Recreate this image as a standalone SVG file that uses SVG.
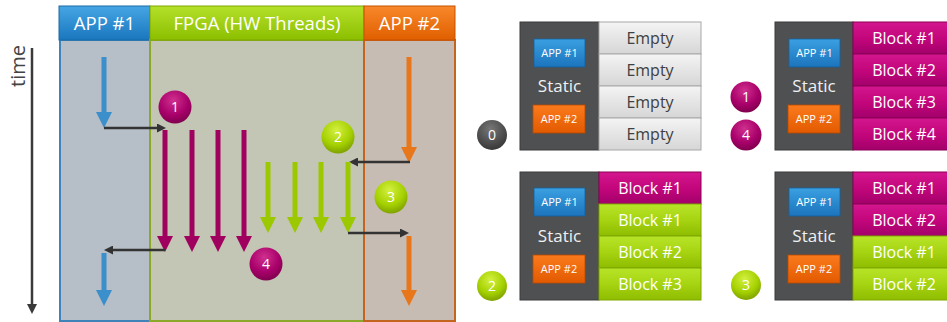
<svg xmlns="http://www.w3.org/2000/svg" width="947" height="322" viewBox="0 0 947 322">
<defs>
<linearGradient id="gBlueH" x1="0" y1="0" x2="0" y2="1"><stop offset="0" stop-color="#45a6e4"/><stop offset="1" stop-color="#1a76be"/></linearGradient>
<linearGradient id="gGreenH" x1="0" y1="0" x2="0" y2="1"><stop offset="0" stop-color="#b4e02a"/><stop offset="1" stop-color="#8cbf00"/></linearGradient>
<linearGradient id="gOrangeH" x1="0" y1="0" x2="0" y2="1"><stop offset="0" stop-color="#f8882a"/><stop offset="1" stop-color="#e05f00"/></linearGradient>
<linearGradient id="gMag" x1="0" y1="0" x2="0" y2="1"><stop offset="0" stop-color="#d4168f"/><stop offset="0.5" stop-color="#c4067c"/><stop offset="1" stop-color="#a2006a"/></linearGradient>
<linearGradient id="gGrn" x1="0" y1="0" x2="0" y2="1"><stop offset="0" stop-color="#b8e428"/><stop offset="0.5" stop-color="#a6d412"/><stop offset="1" stop-color="#8ebc00"/></linearGradient>
<linearGradient id="gEmp" x1="0" y1="0" x2="0" y2="1"><stop offset="0" stop-color="#f4f4f4"/><stop offset="1" stop-color="#d6d6d6"/></linearGradient>
<linearGradient id="gApp1" x1="0" y1="0" x2="0" y2="1"><stop offset="0" stop-color="#3aa0e2"/><stop offset="1" stop-color="#1c74bc"/></linearGradient>
<linearGradient id="gApp2" x1="0" y1="0" x2="0" y2="1"><stop offset="0" stop-color="#fb7a1c"/><stop offset="1" stop-color="#e25a00"/></linearGradient>
<radialGradient id="cMag" cx="0.45" cy="0.3" r="0.75"><stop offset="0" stop-color="#d0308e"/><stop offset="0.6" stop-color="#a8006a"/><stop offset="1" stop-color="#780048"/></radialGradient>
<radialGradient id="cGrn" cx="0.45" cy="0.3" r="0.75"><stop offset="0" stop-color="#d4f040"/><stop offset="0.6" stop-color="#a4d000"/><stop offset="1" stop-color="#789800"/></radialGradient>
<radialGradient id="cGry" cx="0.45" cy="0.3" r="0.75"><stop offset="0" stop-color="#777"/><stop offset="0.6" stop-color="#4e4e4e"/><stop offset="1" stop-color="#333"/></radialGradient>
<marker id="hBlue" markerUnits="userSpaceOnUse" markerWidth="16" markerHeight="16" viewBox="0 0 16 16" refX="0" refY="8" orient="auto"><path d="M0,0 L16,8 L0,16 z" fill="#3b8fca"/></marker>
<marker id="hMag" markerUnits="userSpaceOnUse" markerWidth="16" markerHeight="16" viewBox="0 0 16 16" refX="0" refY="8" orient="auto"><path d="M0,0 L16,8 L0,16 z" fill="#a0005e"/></marker>
<marker id="hGrn" markerUnits="userSpaceOnUse" markerWidth="16" markerHeight="16" viewBox="0 0 16 16" refX="0" refY="8" orient="auto"><path d="M0,0 L16,8 L0,16 z" fill="#9cc800"/></marker>
<marker id="hOrg" markerUnits="userSpaceOnUse" markerWidth="16" markerHeight="16" viewBox="0 0 16 16" refX="0" refY="8" orient="auto"><path d="M0,0 L16,8 L0,16 z" fill="#e8761a"/></marker>
<marker id="hBlk" markerUnits="userSpaceOnUse" markerWidth="9" markerHeight="9" viewBox="0 0 9 9" refX="0" refY="4.5" orient="auto"><path d="M0,0 L9,4.5 L0,9 z" fill="#333"/></marker>
<marker id="hTime" markerUnits="userSpaceOnUse" markerWidth="10" markerHeight="10" viewBox="0 0 10 10" refX="0" refY="5" orient="auto"><path d="M0,0 L10,5 L0,10 z" fill="#3a3a3a"/></marker>
</defs>
<style>
text{font-family:"Open Sans","Noto Sans","Liberation Sans",sans-serif;}
.hdr{fill:#fff;font-size:18.5px;text-anchor:middle;}
.num{fill:#fff;font-size:14px;text-anchor:middle;}
.blk{fill:#fff;font-size:16px;text-anchor:middle;}
.emp{fill:#404040;font-size:16px;text-anchor:middle;}
.stat{fill:#f0f0f0;font-size:17px;text-anchor:middle;}
.sapp{fill:#fff;font-size:11px;text-anchor:middle;}
.thick{stroke-width:5;fill:none;}
.thin{stroke:#333;stroke-width:2.5;fill:none;marker-end:url(#hBlk);}
.static{fill:#4f5052;stroke:#3a3a3c;stroke-width:1;}
.mag{fill:url(#gMag);stroke:#8c0056;stroke-width:1;}
.grn{fill:url(#gGrn);stroke:#7fa600;stroke-width:1;}
.emp-r{fill:url(#gEmp);stroke:#a8a8a8;stroke-width:1;}
.a1{fill:url(#gApp1);stroke:#16609c;stroke-width:0.8;}
.a2{fill:url(#gApp2);stroke:#b84a00;stroke-width:0.8;}
</style>

<!-- time axis -->
<g id="time-axis">
<text x="0" y="0" transform="translate(25,66) rotate(-90)" style="font-size:20px;fill:#444;text-anchor:middle;">time</text>
<line x1="32" y1="48" x2="32" y2="304" stroke="#3a3a3a" stroke-width="2.5" marker-end="url(#hTime)"/>
</g>

<!-- lanes -->
<g id="lane-app1">
<rect x="60" y="40" width="90" height="281" fill="#b6bec7" stroke="#3f83b8" stroke-width="2"/>
<rect x="59" y="6" width="91" height="34" fill="url(#gBlueH)" stroke="#1a6aa8" stroke-width="1"/>
<text class="hdr" x="104.5" y="30">APP #1</text>
</g>
<g id="lane-fpga">
<rect x="150" y="40" width="214" height="281" fill="#c3c6b4" stroke="#8ca829" stroke-width="2"/>
<rect x="150" y="6" width="214" height="34" fill="url(#gGreenH)" stroke="#7ea600" stroke-width="1"/>
<text class="hdr" x="257" y="30">FPGA (HW Threads)</text>
</g>
<g id="lane-app2">
<rect x="364" y="40" width="91" height="281" fill="#c7bcb3" stroke="#c4651f" stroke-width="2"/>
<rect x="364" y="6" width="91" height="34" fill="url(#gOrangeH)" stroke="#c45200" stroke-width="1"/>
<text class="hdr" x="409.5" y="30">APP #2</text>
</g>

<!-- connectors -->
<g id="connectors">
<line class="thick" x1="104" y1="57" x2="104" y2="112" stroke="#3b8fca" marker-end="url(#hBlue)"/>
<line class="thin" x1="104" y1="128" x2="157" y2="128"/>
<line class="thick" x1="165" y1="130" x2="165" y2="236" stroke="#a0005e" marker-end="url(#hMag)"/>
<line class="thick" x1="192" y1="130" x2="192" y2="236" stroke="#a0005e" marker-end="url(#hMag)"/>
<line class="thick" x1="218" y1="130" x2="218" y2="236" stroke="#a0005e" marker-end="url(#hMag)"/>
<line class="thick" x1="244" y1="130" x2="244" y2="236" stroke="#a0005e" marker-end="url(#hMag)"/>
<line class="thick" x1="409" y1="57" x2="409" y2="147" stroke="#e8761a" marker-end="url(#hOrg)"/>
<line class="thin" x1="410" y1="162" x2="358" y2="162"/>
<line class="thick" x1="268" y1="162" x2="268" y2="217" stroke="#9cc800" marker-end="url(#hGrn)"/>
<line class="thick" x1="295" y1="162" x2="295" y2="217" stroke="#9cc800" marker-end="url(#hGrn)"/>
<line class="thick" x1="321" y1="162" x2="321" y2="217" stroke="#9cc800" marker-end="url(#hGrn)"/>
<line class="thick" x1="348" y1="162" x2="348" y2="217" stroke="#9cc800" marker-end="url(#hGrn)"/>
<line class="thin" x1="348" y1="233" x2="400" y2="233"/>
<line class="thick" x1="409" y1="236" x2="409" y2="290" stroke="#e8761a" marker-end="url(#hOrg)"/>
<line class="thin" x1="165" y1="250" x2="113" y2="250"/>
<line class="thick" x1="104" y1="253" x2="104" y2="290" stroke="#3b8fca" marker-end="url(#hBlue)"/>
</g>

<!-- step markers on timeline -->
<g id="step1"><circle cx="175" cy="107" r="16.5" fill="url(#cMag)"/><text class="num" x="175" y="112">1</text></g>
<g id="step2"><circle cx="338" cy="137" r="16.5" fill="url(#cGrn)"/><text class="num" x="338" y="142">2</text></g>
<g id="step3"><circle cx="391" cy="197" r="16.5" fill="url(#cGrn)"/><text class="num" x="391" y="202">3</text></g>
<g id="step4"><circle cx="266" cy="264" r="16.5" fill="url(#cMag)"/><text class="num" x="266" y="269">4</text></g>

<!-- panel 0 -->
<g id="panel0">
<rect class="static" x="520" y="22" width="79" height="128"/>
<rect class="a1" x="534" y="39" width="51" height="28"/><text class="sapp" x="559.5" y="57">APP #1</text>
<text class="stat" x="559.5" y="92">Static</text>
<rect class="a2" x="533" y="105" width="52" height="28"/><text class="sapp" x="559" y="123">APP #2</text>
<rect class="emp-r" x="599" y="22" width="102" height="32"/><text class="emp" x="650" y="44">Empty</text>
<rect class="emp-r" x="599" y="54" width="102" height="32"/><text class="emp" x="650" y="76">Empty</text>
<rect class="emp-r" x="599" y="86" width="102" height="32"/><text class="emp" x="650" y="108">Empty</text>
<rect class="emp-r" x="599" y="118" width="102" height="32"/><text class="emp" x="650" y="140">Empty</text>
<circle cx="492" cy="135" r="15" fill="url(#cGry)"/><text class="num" x="492" y="140">0</text>
</g>

<!-- panel 1/4 -->
<g id="panel1">
<rect class="static" x="775" y="22" width="78" height="128"/>
<rect class="a1" x="789" y="39" width="51" height="28"/><text class="sapp" x="814.5" y="57">APP #1</text>
<text class="stat" x="814" y="92">Static</text>
<rect class="a2" x="788" y="105" width="52" height="28"/><text class="sapp" x="814" y="123">APP #2</text>
<rect class="mag" x="853" y="22" width="102" height="32"/><text class="blk" x="904" y="44">Block #1</text>
<rect class="mag" x="853" y="54" width="102" height="32"/><text class="blk" x="904" y="76">Block #2</text>
<rect class="mag" x="853" y="86" width="102" height="32"/><text class="blk" x="904" y="108">Block #3</text>
<rect class="mag" x="853" y="118" width="102" height="32"/><text class="blk" x="904" y="140">Block #4</text>
<circle cx="746" cy="97" r="15.5" fill="url(#cMag)"/><text class="num" x="746" y="102">1</text>
<circle cx="746" cy="135" r="15.5" fill="url(#cMag)"/><text class="num" x="746" y="140">4</text>
</g>

<!-- panel 2 -->
<g id="panel2">
<rect class="static" x="520" y="172" width="79" height="128"/>
<rect class="a1" x="534" y="188" width="51" height="28"/><text class="sapp" x="559.5" y="206">APP #1</text>
<text class="stat" x="559.5" y="242">Static</text>
<rect class="a2" x="533" y="255" width="52" height="28"/><text class="sapp" x="559" y="273">APP #2</text>
<rect class="mag" x="599" y="172" width="102" height="32"/><text class="blk" x="650" y="194">Block #1</text>
<rect class="grn" x="599" y="204" width="102" height="32"/><text class="blk" x="650" y="226">Block #1</text>
<rect class="grn" x="599" y="236" width="102" height="32"/><text class="blk" x="650" y="258">Block #2</text>
<rect class="grn" x="599" y="268" width="102" height="32"/><text class="blk" x="650" y="290">Block #3</text>
<circle cx="492" cy="286" r="15" fill="url(#cGrn)"/><text class="num" x="492" y="291">2</text>
</g>

<!-- panel 3 -->
<g id="panel3">
<rect class="static" x="775" y="172" width="78" height="128"/>
<rect class="a1" x="789" y="188" width="51" height="28"/><text class="sapp" x="814.5" y="206">APP #1</text>
<text class="stat" x="814" y="242">Static</text>
<rect class="a2" x="788" y="255" width="52" height="28"/><text class="sapp" x="814" y="273">APP #2</text>
<rect class="mag" x="853" y="172" width="102" height="32"/><text class="blk" x="904" y="194">Block #1</text>
<rect class="mag" x="853" y="204" width="102" height="32"/><text class="blk" x="904" y="226">Block #2</text>
<rect class="grn" x="853" y="236" width="102" height="32"/><text class="blk" x="904" y="258">Block #1</text>
<rect class="grn" x="853" y="268" width="102" height="32"/><text class="blk" x="904" y="290">Block #2</text>
<circle cx="746" cy="285" r="15" fill="url(#cGrn)"/><text class="num" x="746" y="290">3</text>
</g>
</svg>
